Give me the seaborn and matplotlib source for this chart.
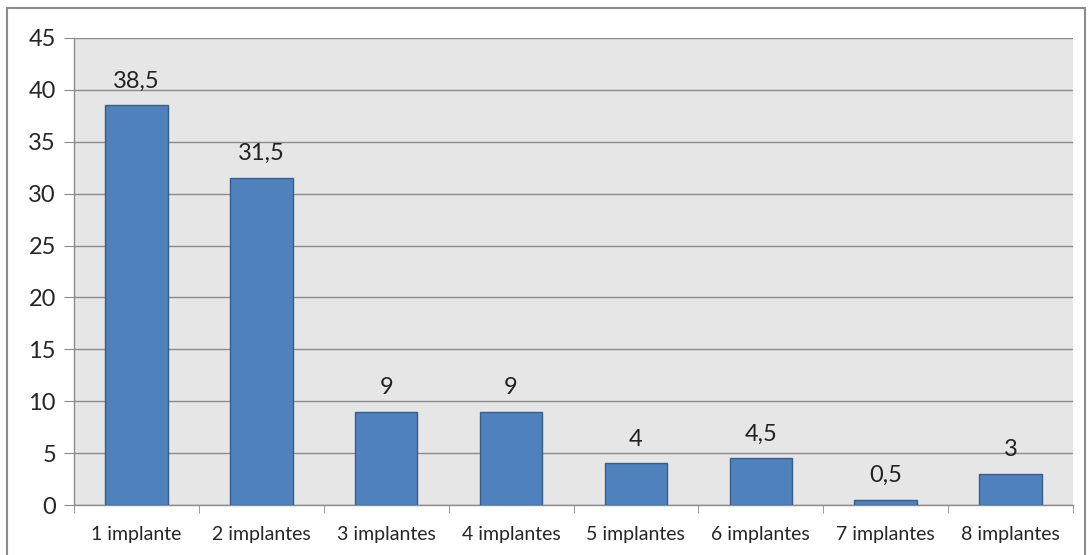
import seaborn as sns
import matplotlib.pyplot as plt
import matplotlib.patches as patches
import pandas as pd

categories = ["1 implante", "2 implantes", "3 implantes", "4 implantes",
              "5 implantes", "6 implantes", "7 implantes", "8 implantes"]
values = [38.5, 31.5, 9, 9, 4, 4.5, 0.5, 3]
value_labels = ["38,5", "31,5", "9", "9", "4", "4,5", "0,5", "3"]
yticks = [0, 5, 10, 15, 20, 25, 30, 35, 40, 45]

sns.set_style("white")
plt.rcParams["font.family"] = ["Lato", "DejaVu Sans"]

df = pd.DataFrame({"cat": categories, "val": values})

fig = plt.figure(figsize=(10.92, 5.55), dpi=100)
ax = fig.add_axes([74 / 1092, 1 - 505 / 555, (1073 - 74) / 1092, (505 - 38) / 555])

sns.barplot(data=df, x="cat", y="val", ax=ax, color="#4f81bd", width=0.5,
            edgecolor="#385d8a", linewidth=1, saturation=1, zorder=3)

ax.set_facecolor("#e6e6e6")
ax.set_ylim(0, 45)
ax.set_xlim(-0.5, len(categories) - 0.5)
ax.set_yticks(yticks)
ax.yaxis.grid(True, color="#8c8c8c", linewidth=1, zorder=0)
ax.set_axisbelow(True)
ax.set_xlabel("")
ax.set_ylabel("")

for s in ["top", "right"]:
    ax.spines[s].set_visible(False)
for s in ["left", "bottom"]:
    ax.spines[s].set_color("#8c8c8c")
    ax.spines[s].set_linewidth(1)

ax.tick_params(axis="y", length=7, color="#8c8c8c", labelsize=17, pad=6, left=True)
ax.tick_params(axis="x", which="major", length=0, labelsize=14, pad=15)
ax.set_xticks([i - 0.5 for i in range(len(categories) + 1)], minor=True)
ax.tick_params(axis="x", which="minor", length=6, color="#8c8c8c", bottom=True)

ax.bar_label(ax.containers[0], labels=value_labels, padding=10, fontsize=17, color="#222222")

fig.add_artist(patches.Rectangle((7 / 1092, -0.02), (1085 - 7) / 1092, 1 - 8 / 555 + 0.02,
                                 transform=fig.transFigure, fill=False,
                                 edgecolor="#8c8c8c", linewidth=1.5))

fig.savefig("out.png", dpi=100, facecolor="white")
